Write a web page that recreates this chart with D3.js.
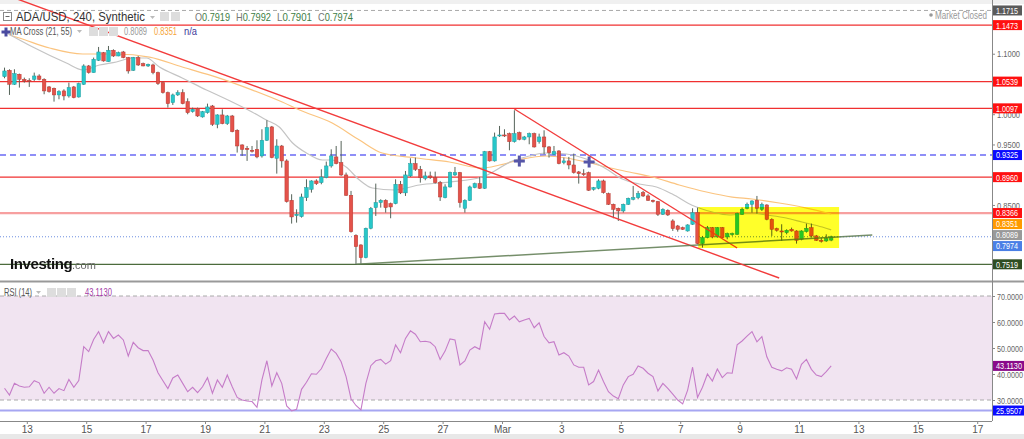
<!DOCTYPE html>
<html><head><meta charset="utf-8">
<script src="https://cdn.jsdelivr.net/npm/d3@7"></script>
<style>body{margin:0;background:#fff}svg{display:block;font-family:"Liberation Sans",Arial,sans-serif}</style>
</head><body><svg id="c" width="1024" height="439"></svg>
<script>
// ---- DATA (ADA/USD, 4h candles, Feb 12 – Mar 12) ----
const opens=[1.0621,1.0726,1.0495,1.0660,1.0577,1.0561,1.0577,1.0632,1.0577,1.0451,1.0429,1.0319,1.0385,1.0302,1.0451,1.0285,
1.0495,1.0798,1.0688,1.0891,1.1018,1.0869,1.1057,1.0963,1.1029,1.0936,1.0726,1.0936,1.0836,1.0798,1.0814,1.0688,
1.0522,1.0357,1.0192,1.0319,1.0357,1.0208,1.0043,1.0098,0.9955,1.0026,1.0136,0.9834,0.9988,0.9845,0.9971,0.9734,
0.9492,0.9437,0.9404,0.9420,0.9310,0.9569,0.9790,0.9272,0.9475,0.9228,0.8577,0.8324,0.8307,0.8621,0.8759,0.8897,
0.8869,0.8952,0.9145,0.9294,0.9200,0.8996,0.8660,0.7999,0.7839,0.7629,0.8114,0.8456,0.8539,0.8577,0.8522,0.8522,
0.8842,0.8700,0.8980,0.9184,0.9090,0.8941,0.8980,0.8952,0.8869,0.8621,0.8798,0.8996,0.9035,0.8445,0.8577,0.8787,
0.8853,0.8776,0.9382,0.9228,0.9650,0.9657,0.9679,0.9547,0.9696,0.9586,0.9624,0.9679,0.9547,0.9624,0.9459,0.9338,
0.9393,0.9200,0.9228,0.9161,0.9046,0.9018,0.9035,0.8759,0.8776,0.8897,0.8688,0.8511,0.8445,0.8401,0.8511,0.8594,
0.8621,0.8704,0.8649,0.8577,0.8555,0.8346,0.8412,0.8236,0.8153,0.8125,0.8070,0.8181,0.8373,0.7861,0.7960,0.8125,
0.7971,0.8125,0.7971,0.8015,0.8015,0.8346,0.8445,0.8511,0.8577,0.8428,0.8500,0.8263,0.8109,0.8070,0.8043,0.8098,
0.8070,0.7933,0.8059,0.8125,0.7988,0.7916,0.7905,0.7919];
const highs=[1.0770,1.0743,1.0743,1.0671,1.0605,1.0594,1.0688,1.0660,1.0594,1.0467,1.0440,1.0396,1.0412,1.0522,1.0467,1.0522,
1.0825,1.0814,1.0936,1.1112,1.1029,1.1128,1.1073,1.1035,1.1046,1.0947,1.0947,1.0963,1.0853,1.0836,1.0836,1.0704,
1.0539,1.0374,1.0341,1.0396,1.0412,1.0263,1.0109,1.0109,1.0054,1.0175,1.0153,0.9999,1.0081,0.9988,0.9988,0.9751,
0.9503,0.9475,0.9475,0.9569,0.9751,0.9900,0.9806,0.9586,0.9492,0.9255,0.8677,0.8428,0.8687,0.8924,0.8908,0.8924,
0.9090,0.9217,0.9420,0.9475,0.9558,0.9035,0.8732,0.8015,0.7850,0.8125,0.8467,0.8853,0.8594,0.8594,0.8539,0.8924,
0.8897,0.9062,0.9272,0.9283,0.9145,0.9051,0.9051,0.9051,0.8897,0.8842,0.9051,0.9128,0.9046,0.8594,0.8820,0.8869,
0.8963,0.9393,0.9393,0.9696,0.9806,0.9751,0.9696,1.0065,0.9712,0.9641,0.9696,0.9696,0.9679,0.9734,0.9475,0.9475,
0.9404,0.9283,0.9294,0.9349,0.9062,0.9090,0.9051,0.8798,0.8924,0.8919,0.8704,0.8522,0.8456,0.8522,0.8621,0.8814,
0.8732,0.8732,0.8677,0.8588,0.8566,0.8445,0.8428,0.8263,0.8170,0.8142,0.8181,0.8445,0.8456,0.7988,0.8153,0.8136,
0.8136,0.8136,0.8043,0.8043,0.8373,0.8456,0.8539,0.8577,0.8649,0.8539,0.8511,0.8280,0.8125,0.8181,0.8098,0.8125,
0.8081,0.8081,0.8192,0.8192,0.8004,0.7960,0.8015,0.7992];
const lows=[1.0594,1.0319,1.0484,1.0440,1.0522,1.0451,1.0550,1.0561,1.0330,1.0357,1.0208,1.0247,1.0230,1.0274,1.0263,1.0274,
1.0484,1.0671,1.0688,1.0880,1.0869,1.0869,1.0947,1.0958,1.0925,1.0671,1.0715,1.0798,1.0792,1.0781,1.0660,1.0484,
1.0341,1.0109,1.0153,1.0302,1.0164,0.9999,1.0026,0.9955,0.9944,1.0010,0.9806,0.9768,0.9834,0.9823,0.9701,0.9366,
0.9310,0.9228,0.9366,0.9272,0.9283,0.9558,0.9272,0.9018,0.9117,0.8539,0.8192,0.8208,0.8291,0.8566,0.8704,0.8831,
0.8842,0.8941,0.9117,0.9172,0.8980,0.8649,0.8043,0.7519,0.7530,0.7618,0.8098,0.8318,0.8456,0.8373,0.8280,0.8511,
0.8680,0.8649,0.8963,0.9062,0.8869,0.8908,0.8930,0.8853,0.8566,0.8610,0.8787,0.8980,0.8456,0.8373,0.8566,0.8776,
0.8765,0.8765,0.9217,0.9217,0.9624,0.9624,0.9404,0.9531,0.9569,0.9569,0.9503,0.9448,0.9514,0.9338,0.9283,0.9327,
0.9172,0.9172,0.9090,0.9018,0.8853,0.8980,0.8732,0.8737,0.8759,0.8688,0.8500,0.8280,0.8236,0.8373,0.8500,0.8577,
0.8594,0.8632,0.8566,0.8539,0.8318,0.8335,0.8318,0.8071,0.8059,0.8087,0.8059,0.8170,0.7850,0.7795,0.7949,0.7949,
0.7960,0.7949,0.7933,0.7988,0.8004,0.8335,0.8428,0.8373,0.8357,0.8401,0.8247,0.7988,0.8059,0.7905,0.8015,0.8059,
0.7861,0.7916,0.8043,0.7960,0.7905,0.7878,0.7889,0.7901];
const closes=[1.0715,1.0495,1.0671,1.0577,1.0550,1.0555,1.0632,1.0577,1.0385,1.0374,1.0319,1.0374,1.0302,1.0440,1.0274,1.0506,
1.0798,1.0688,1.0908,1.1029,1.0880,1.1057,1.0963,1.1018,1.0936,1.0715,1.0936,1.0814,1.0798,1.0825,1.0688,1.0506,
1.0357,1.0175,1.0319,1.0357,1.0175,1.0026,1.0081,0.9971,1.0043,1.0120,0.9834,0.9988,0.9845,0.9971,0.9712,0.9475,
0.9420,0.9415,0.9400,0.9294,0.9569,0.9779,0.9283,0.9475,0.9228,0.8555,0.8302,0.8346,0.8632,0.8787,0.8897,0.8853,
0.8963,0.9145,0.9310,0.9184,0.8996,0.8660,0.8059,0.7811,0.7629,0.8114,0.8445,0.8539,0.8577,0.8456,0.8467,0.8842,
0.8700,0.8996,0.9184,0.9090,0.8952,0.8980,0.8952,0.8869,0.8632,0.8798,0.9035,0.9035,0.8539,0.8577,0.8798,0.8853,
0.8776,0.9382,0.9228,0.9624,0.9657,0.9650,0.9547,0.9679,0.9586,0.9624,0.9679,0.9459,0.9624,0.9459,0.9366,0.9382,
0.9184,0.9228,0.9161,0.9035,0.9018,0.9007,0.8743,0.8787,0.8897,0.8704,0.8511,0.8428,0.8401,0.8511,0.8610,0.8621,
0.8688,0.8649,0.8577,0.8555,0.8346,0.8428,0.8335,0.8109,0.8098,0.8098,0.8170,0.8373,0.7861,0.7960,0.8125,0.7971,
0.8125,0.7960,0.8026,0.8026,0.8357,0.8428,0.8511,0.8566,0.8445,0.8511,0.8263,0.8098,0.8081,0.8054,0.8081,0.8070,
0.7916,0.8070,0.8114,0.7988,0.7916,0.7905,0.7944,0.7974];
const rsiValues=[34.5,31.9,36.4,35.4,34.9,35.1,37.4,36.6,32.6,34.9,32.6,34.4,33.6,37.9,34.9,37.5,
50.5,48.6,53.3,56.3,52.0,56.3,53.7,55.0,53.1,46.9,52.2,50.1,49.0,49.0,45.4,40.5,
37.4,34.4,38.5,39.6,36.4,33.2,34.9,32.8,35.1,38.6,32.6,37.7,34.9,39.6,35.1,31.0,
30.0,29.6,29.4,27.2,37.7,45.1,35.4,40.5,36.4,27.7,25.8,26.4,34.1,36.8,40.1,39.9,
42.0,46.0,49.6,47.9,44.7,39.0,30.5,27.9,26.2,36.4,43.2,45.1,45.6,43.8,45.1,51.2,
48.2,53.7,56.6,55.3,52.4,52.6,52.2,50.5,45.6,48.8,53.5,53.1,43.5,45.0,49.2,50.5,
49.5,60.1,57.2,63.1,63.3,63.3,60.8,62.3,60.1,60.8,61.4,57.8,59.7,54.4,52.0,52.4,
47.3,48.2,46.9,43.5,42.6,42.6,35.8,37.1,41.5,37.1,33.2,31.5,30.5,35.8,39.0,39.9,
43.1,42.2,40.3,39.0,33.5,36.4,34.5,32.3,30.0,28.5,33.8,42.6,31.0,34.9,40.0,37.3,
41.9,38.6,40.5,40.3,51.2,52.7,54.6,56.3,52.4,54.4,46.6,42.6,41.8,41.2,42.4,41.8,
38.1,43.7,45.6,41.8,39.6,39.0,40.9,43.113];
// MA(21) and MA(55) read as [candle index, price]
const ma21=[[0,1.1364],[5.7,1.1111],[12.5,1.0846],[15.8,1.0731],[19.2,1.0813],[22.6,1.0863],[25.8,1.0929],[28.7,1.0929],[31.3,1.0780],[35.9,1.0599],[40.8,1.0401],[46,1.0202],[50,1.0037],[52.9,0.9905],[55.5,0.9789],[58.2,0.9525],[61,0.9359],[64.2,0.9243],[66.2,0.9243],[69,0.9127],[71.7,0.8912],[74.3,0.8780],[78.8,0.8747],[83.8,0.8830],[89.9,0.8879],[96.5,0.8962],[102.6,0.9226],[106,0.9309],[109.4,0.9359],[113.5,0.9342],[117.5,0.9259],[121.6,0.9094],[124.8,0.8928],[128.2,0.8846],[131.7,0.8796],[134.9,0.8680],[138.9,0.8494],[143,0.8383],[146.4,0.8334],[151,0.8367],[153.9,0.8334],[157.9,0.8284],[161.1,0.8218],[165.2,0.8135],[167,0.8089]];
const ma55=[[1,1.1309],[3,1.1260],[9.1,1.1094],[15.8,1.0995],[22.6,1.0995],[29.3,1.0945],[35.9,1.0780],[42.8,1.0614],[50.1,1.0399],[56.1,1.0201],[59.6,1.0069],[66.2,0.9854],[71.7,0.9573],[76.3,0.9359],[83.2,0.9276],[89.9,0.9210],[96.5,0.9110],[100,0.9160],[104.6,0.9259],[109.4,0.9309],[113.5,0.9276],[117.5,0.9210],[121.6,0.9127],[126.2,0.9045],[130.9,0.8962],[136.3,0.8830],[141.8,0.8714],[147,0.8631],[151,0.8598],[156.5,0.8532],[162,0.8449],[167,0.8351]];
const maCrosses=[[104,0.9226],[118.1,0.9210]];
const redLevels=[1.1473,1.0539,1.0097,0.8960];
const trendLines=[[[2.0,1.1921],[156.5,0.7293]],[[103,1.0086],[148,0.7788]]];
const supportLine=[[71.1,0.7519],[175.3,0.8003]];
const boxZone=[140.15,168.6,0.8466,0.7788];
const priceTicks=[0.85,0.95,1.00,1.10];
const rsiTicks=[30,40,50,60,70];
const header={sym:"ADA/USD, 240, Synthetic",o:"0.7919",h:"0.7992",l:"0.7901",c:"0.7974"};

// ---- CHART ----
const svg=d3.select("#c"), R=992, day=864e5, base=Date.UTC(2022,1,13), cStart=Date.UTC(2022,1,12,4);
const tOf=i=>new Date(cStart+(i*4+2)*3600e3);
const x=d3.scaleUtc().domain([base-0.9024*day, base+32.498*day]).range([0,R]);
const y=d3.scaleLinear().domain([0.7243,1.1888]).range([281,0]);
const yR=d3.scaleLinear().domain([30,70]).range([400,296]);
const X=i=>x(tOf(i));
const fit=(sel,len)=>sel.attr("textLength",len).attr("lengthAdjust","spacingAndGlyphs");

svg.append("rect").attr("width",1024).attr("height",439).attr("fill","#fff");
svg.append("rect").attr("width",1024).attr("height",4).attr("fill","#f0f0f0");
const defs=svg.append("defs");
defs.append("clipPath").attr("id","mc").append("rect").attr("x",0).attr("y",0).attr("width",R).attr("height",281);
defs.append("clipPath").attr("id","rc").append("rect").attr("x",0).attr("y",283).attr("width",R).attr("height",138);

const main=svg.append("g").attr("clip-path","url(#mc)");
// price axis ticks/labels
const ya=svg.append("g").attr("transform",`translate(${R},0)`).call(d3.axisRight(y).tickValues(priceTicks).tickFormat(d3.format(".4f")).tickSize(3).tickPadding(2));
ya.select(".domain").remove();
fit(ya.selectAll("text").attr("fill","#666").attr("font-size",9.5),23);
ya.selectAll("line").attr("stroke","#888");

// horizontal levels
main.append("line").attr("x1",0).attr("x2",R).attr("y1",y(1.1715)).attr("y2",y(1.1715)).attr("stroke","#aaa").attr("stroke-dasharray","4,3");
redLevels.forEach(v=>main.append("line").attr("x1",0).attr("x2",R).attr("y1",y(v)).attr("y2",y(v)).attr("stroke","#f03030").attr("stroke-width",1.2));
main.append("line").attr("x1",0).attr("x2",R).attr("y1",y(0.9325)).attr("y2",y(0.9325)).attr("stroke","#6a6af5").attr("stroke-width",1.5).attr("stroke-dasharray","6,4");
main.append("line").attr("x1",0).attr("x2",R).attr("y1",y(0.8366)).attr("y2",y(0.8366)).attr("stroke","#f26060").attr("stroke-opacity",0.6).attr("stroke-width",2.2);
main.append("line").attr("x1",0).attr("x2",R).attr("y1",y(0.7974)).attr("y2",y(0.7974)).attr("stroke","#6c8ee0").attr("stroke-dasharray","1,2");
main.append("line").attr("x1",0).attr("x2",R).attr("y1",y(0.7519)).attr("y2",y(0.7519)).attr("stroke","#4c6b3c").attr("stroke-width",1.3);

// MA lines
const ln=d3.line().x(d=>X(d[0])).y(d=>y(d[1])).curve(d3.curveMonotoneX);
main.append("path").attr("d",ln(ma55)).attr("fill","none").attr("stroke","#fbc47f").attr("stroke-width",1.2);
main.append("path").attr("d",ln(ma21)).attr("fill","none").attr("stroke","#c4c4c4").attr("stroke-width",1.2);

// candles
const cg=main.append("g");
opens.forEach((o,i)=>{
  const c=closes[i], up=c>=o, cx=X(i);
  cg.append("line").attr("x1",cx).attr("x2",cx).attr("y1",y(highs[i])).attr("y2",y(lows[i])).attr("stroke","#56645a").attr("stroke-width",1);
  const t=y(Math.max(o,c)), b=y(Math.min(o,c));
  cg.append("rect").attr("x",cx-1.75).attr("width",3.5).attr("y",t).attr("height",Math.max(1,b-t))
    .attr("fill",up?"#27c7c9":"#e4524a").attr("stroke",up?"#1e9ea0":"#b83a33").attr("stroke-width",0.5);
});

// trend lines
trendLines.forEach(l=>main.append("line").attr("x1",X(l[0][0])).attr("y1",y(l[0][1])).attr("x2",X(l[1][0])).attr("y2",y(l[1][1])).attr("stroke","#f23c3c").attr("stroke-width",1.4));
main.append("line").attr("x1",X(supportLine[0][0])).attr("y1",y(supportLine[0][1])).attr("x2",X(supportLine[1][0])).attr("y2",y(supportLine[1][1])).attr("stroke","#5d7a50").attr("stroke-width",1.5).attr("stroke-opacity",0.85);

// yellow zone
main.append("rect").attr("x",X(boxZone[0])).attr("width",X(boxZone[1])-X(boxZone[0])).attr("y",y(boxZone[2])).attr("height",y(boxZone[3])-y(boxZone[2]))
  .attr("fill","#ffff2a").style("mix-blend-mode","multiply");

// MA cross markers
function cross(g,cx,cy,s,col){g.append("rect").attr("x",cx-s/2).attr("y",cy-1.5).attr("width",s).attr("height",3).attr("fill",col);g.append("rect").attr("x",cx-1.5).attr("y",cy-s/2).attr("width",3).attr("height",s).attr("fill",col);}
maCrosses.forEach(d=>cross(main,X(d[0]),y(d[1]),11,"#5656a8"));

// Investing logo
main.append("text").attr("x",10).attr("y",269).attr("font-size",15).attr("font-weight","bold").attr("fill","#111").attr("letter-spacing",-0.4).text("Investing");
main.append("text").attr("x",72).attr("y",269).attr("font-size",11).attr("fill","#666").text(".com");

// header
const hd=svg.append("g");
hd.append("rect").attr("x",3.5).attr("y",12.5).attr("width",8).attr("height",8).attr("fill","#fff").attr("stroke","#888");
hd.append("line").attr("x1",5.5).attr("x2",9.5).attr("y1",16.5).attr("y2",16.5).attr("stroke","#666");
fit(hd.append("text").attr("x",16).attr("y",21).attr("font-size",12).attr("fill","#333").text(header.sym),129);
hd.append("path").attr("d","M150,16 l5,0 l-2.5,3z").attr("fill","#bbb");
[160,171].forEach(a=>hd.append("rect").attr("x",a).attr("y",12).attr("width",9).attr("height",9).attr("fill","#ddd"));
const ohlc=[["O",195,header.o],["H",236,header.h],["L",277,header.l],["C",318,header.c]];
ohlc.forEach(d=>{const t=hd.append("text").attr("x",d[1]).attr("y",21).attr("font-size",11.5);t.append("tspan").attr("fill","#777").text(d[0]);t.append("tspan").attr("fill","#3d7d45").text(d[2]);fit(t,35);});
// MA legend
fit(hd.append("text").attr("x",10).attr("y",35).attr("font-size",10.5).attr("fill","#555").text("MA Cross (21, 55)"),62);
hd.append("path").attr("d","M77,30 l5,0 l-2.5,3z").attr("fill","#bbb");
[89,99,109].forEach(a=>hd.append("rect").attr("x",a).attr("y",27).attr("width",9).attr("height",9).attr("fill","#ddd"));
fit(hd.append("text").attr("x",124).attr("y",35).attr("font-size",10.5).attr("fill","#9a9a9a").text("0.8089"),23);
fit(hd.append("text").attr("x",154).attr("y",35).attr("font-size",10.5).attr("fill","#f5a43a").text("0.8351"),23);
fit(hd.append("text").attr("x",184).attr("y",35).attr("font-size",10.5).attr("fill","#3a3a9a").text("n/a"),13);
cross(hd,6,32,9,"#4a4aa0");
hd.append("circle").attr("cx",931).attr("cy",15).attr("r",1.8).attr("fill","#999");
fit(hd.append("text").attr("x",935).attr("y",19).attr("font-size",10).attr("fill","#999").text("Market Closed"),52);

// separator
svg.append("line").attr("x1",0).attr("x2",1024).attr("y1",281.5).attr("y2",281.5).attr("stroke","#999").attr("stroke-width",2);

// RSI pane
const rg=svg.append("g").attr("clip-path","url(#rc)");
rg.append("rect").attr("x",0).attr("width",R).attr("y",yR(70)).attr("height",yR(30)-yR(70)).attr("fill","#f1e4f1");
[70,30].forEach(v=>rg.append("line").attr("x1",0).attr("x2",R).attr("y1",yR(v)).attr("y2",yR(v)).attr("stroke","#aaa").attr("stroke-dasharray","4,3"));
rg.append("line").attr("x1",0).attr("x2",R).attr("y1",yR(25.9507)).attr("y2",yR(25.9507)).attr("stroke","#a6a6f2").attr("stroke-width",2);
rg.append("path").attr("d",d3.line().x((d,i)=>X(i)).y(d=>yR(d))(rsiValues)).attr("fill","none").attr("stroke","#c57cc8").attr("stroke-width",1.1);
const ra=svg.append("g").attr("transform",`translate(${R},0)`).call(d3.axisRight(yR).tickValues(rsiTicks).tickFormat(d3.format(".4f")).tickSize(3).tickPadding(2));
ra.select(".domain").remove();fit(ra.selectAll("text").attr("fill","#666").attr("font-size",9.5),26);ra.selectAll("line").attr("stroke","#888");
fit(svg.append("text").attr("x",4).attr("y",296).attr("font-size",10).attr("fill","#555").text("RSI (14)"),28);
svg.append("path").attr("d","M36,291 l5,0 l-2.5,3z").attr("fill","#bbb");
[47,57,67].forEach(a=>svg.append("rect").attr("x",a).attr("y",288).attr("width",9).attr("height",9).attr("fill","#ddd"));
fit(svg.append("text").attr("x",85).attr("y",296).attr("font-size",10.5).attr("fill","#a23ca6").text("43.1130"),27);

// right axis line
svg.append("line").attr("x1",R+0.5).attr("x2",R+0.5).attr("y1",0).attr("y2",421).attr("stroke","#888");

// value boxes on price axis
function box(cy,txt,bg,w,tl){svg.append("rect").attr("x",R+1).attr("y",cy-5).attr("width",w).attr("height",10).attr("fill",bg);
  fit(svg.append("text").attr("x",R+4).attr("y",cy+3.4).attr("font-size",9.5).attr("fill","#fff").text(txt),tl);}
const tags=[[1.1715,"#5a5a5a"],[1.1473,"#ff1010"],[1.0539,"#ff1010"],[1.0097,"#ff1010"],[0.9325,"#0a0aff"],[0.8960,"#ff1010"],[0.8366,"#ff1010"],[0.8351,"#ff9a00"],[0.8089,"#999999"],[0.7974,"#4a7fe6"],[0.7519,"#2e4d22"]];
let prev=-99;
tags.forEach(t=>{let cy=Math.max(y(t[0]),prev+11);prev=cy;box(cy,t[0].toFixed(4),t[1],29,22);});
box(yR(43.113),"43.1130","#8a0a8a",31,26);
box(yR(25.9507),"25.9507","#0a0aff",31,26);

// time axis
const tv=d3.range(0,17).map(k=>new Date(base+2*k*day));
const xa=svg.append("g").attr("transform","translate(0,421)").call(d3.axisBottom(x).tickValues(tv).tickSize(3).tickPadding(2)
  .tickFormat(d=>d.getUTCDate()===1?"Mar":d.getUTCDate()));
xa.select(".domain").attr("stroke","#888").attr("d",`M0,0.5H${R}`);
xa.selectAll("line").attr("stroke","#888");
xa.selectAll("text").attr("fill","#555").attr("font-size",10).style("font-family","'Liberation Sans Narrow','Arial Narrow',sans-serif");
svg.append("rect").attr("x",0).attr("y",434).attr("width",1024).attr("height",5).attr("fill","#e8e8e8");
</script></body></html>
